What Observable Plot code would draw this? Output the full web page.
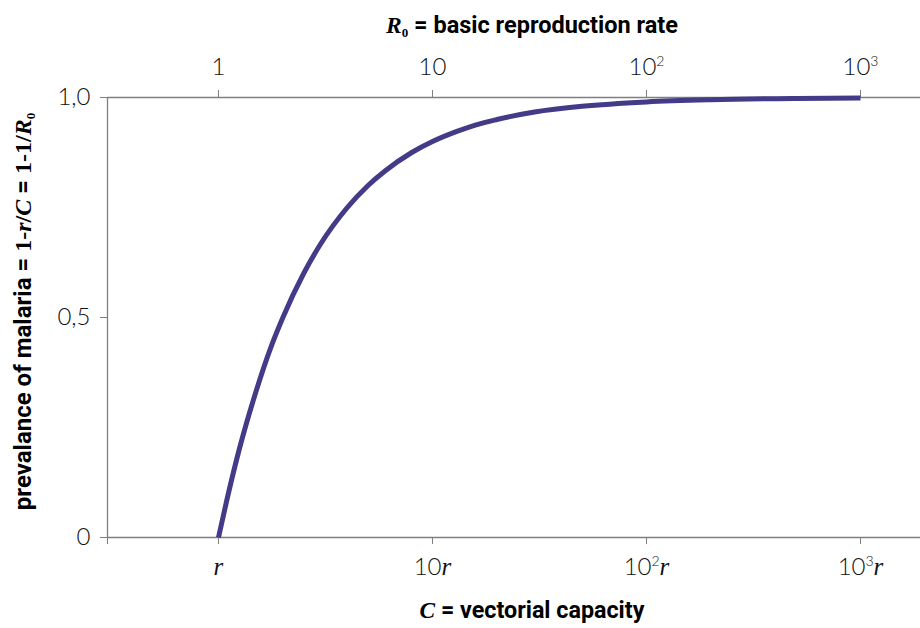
<!DOCTYPE html>
<html><head><meta charset="utf-8">
<script src="https://cdn.jsdelivr.net/npm/d3@7"></script>
<script src="https://cdn.jsdelivr.net/npm/@observablehq/plot@0.6"></script>
<style>body{margin:0;background:#fff} svg{display:block}</style>
</head><body><div id="chart"></div>
<script>
// R0 = basic reproduction rate (C/r) and prevalence of malaria
const r0Values   = [1, 1.1, 1.25, 1.5, 1.75, 2, 2.5, 3, 4, 5, 6, 8, 10, 13, 16, 20, 30, 50, 100, 200, 500, 1000];
const prevalence = [0, 0.09, 0.2, 0.333, 0.43, 0.5, 0.6, 0.667, 0.75, 0.8, 0.833, 0.875, 0.9, 0.923, 0.938, 0.95, 0.967, 0.98, 0.99, 0.995, 0.998, 0.999];
const r0Ticks = [1, 10, 100, 1000];
// [base, superscript] for the top axis; [base, superscript] + italic r for the bottom axis
const topTickLabels = [["1", ""], ["10", ""], ["10", "2"], ["10", "3"]];
const bottomTickLabels = [["", ""], ["10", ""], ["10", "2"], ["10", "3"]];
const yTicks = [0, 0.5, 1];
const yTickLabels = ["0", "0,5", "1,0"];
const xDomain = [0.303, 1907];

const data = r0Values.map((x, i) => ({x, y: prevalence[i]}));
const sans = "Lato, 'Open Sans', sans-serif";
const boldSans = "Roboto, Lato, sans-serif";
const serif = "'Liberation Serif', 'DejaVu Serif', serif";
const axisGrey = "#7f7f7f";
const ink = "#111";

const chart = Plot.plot({
  width: 920, height: 628,
  marginLeft: 107, marginRight: 0, marginTop: 97, marginBottom: 91,
  style: {fontFamily: sans, background: "#fff", color: ink},
  x: {type: "log", domain: xDomain},
  y: {domain: [0, 1]},
  marks: [
    Plot.ruleY([0, 1], {stroke: axisGrey, strokeWidth: 1.3}),
    Plot.ruleX([xDomain[0]], {stroke: axisGrey, strokeWidth: 1.3}),
    Plot.axisX(r0Ticks, {anchor: "top", tickSize: 8, tickPadding: 15, fontSize: 24, fontWeight: 300,
      stroke: axisGrey, fill: ink, label: null, className: "top-ticks",
      tickFormat: d => topTickLabels[r0Ticks.indexOf(d)].join("|")}),
    Plot.axisX([xDomain[0], ...r0Ticks], {anchor: "bottom", tickSize: 7, tickPadding: 13, fontSize: 24, fontWeight: 300,
      stroke: axisGrey, fill: ink, label: null, className: "bottom-ticks",
      tickFormat: d => { const i = r0Ticks.indexOf(d); return i < 0 ? "" : bottomTickLabels[i].join("|") + "|r"; }}),
    Plot.axisY(yTicks, {anchor: "left", tickSize: 7, tickPadding: 10, fontSize: 24, fontWeight: 300,
      stroke: axisGrey, fill: ink, label: null,
      tickFormat: d => yTickLabels[yTicks.indexOf(d)]}),
    Plot.line(data, {x: "x", y: "y", stroke: "#433a88", strokeWidth: 5, curve: "monotone-x", strokeLinecap: "butt"}),
    Plot.text(["R0 = basic reproduction rate"], {frameAnchor: "top", dx: 18, dy: -81, fontSize: 23.5, fontWeight: "bold", fontFamily: boldSans, className: "top-title", fill: "#000"}),
    Plot.text(["C = vectorial capacity"], {frameAnchor: "bottom", dx: 18, dy: 80, fontSize: 23.3, fontWeight: "bold", fontFamily: boldSans, className: "bottom-title", fill: "#000"}),
    Plot.text(["prevalance of malaria = 1-r/C = 1-1/R0"], {frameAnchor: "left", textAnchor: "middle", dx: -84, dy: -6, rotate: -90, fontSize: 24, fontWeight: "bold", fontFamily: boldSans, className: "y-title", fill: "#000"})
  ]
});
document.getElementById("chart").appendChild(chart);

// rich text helpers
function setRich(textEl, parts) {
  const t = d3.select(textEl);
  t.text(null);
  parts.forEach(p => {
    const s = t.append("tspan").text(p.t);
    if (p.serif) s.attr("font-family", serif);
    if (p.italic) s.attr("font-style", "italic");
    if (p.weight) s.attr("font-weight", p.weight);
    if (p.size) s.attr("font-size", p.size);
    if (p.dy) s.attr("dy", p.dy);
  });
}
const svg = d3.select(chart);
svg.selectAll(".top-title text").each(function() {
  setRich(this, [
    {t: "R", serif: true, italic: true},
    {t: "0", serif: true, size: 13, dy: 4},
    {t: " = basic reproduction rate", dy: -4}
  ]);
});
svg.selectAll(".bottom-title text").each(function() {
  setRich(this, [
    {t: "C", serif: true, italic: true},
    {t: " = vectorial capacity"}
  ]);
});
svg.selectAll(".y-title text").each(function() {
  setRich(this, [
    {t: "prevalance of malaria = "},
    {t: "1-", serif: true},
    {t: "r", serif: true, italic: true},
    {t: "/", serif: true},
    {t: "C", serif: true, italic: true},
    {t: " = "},
    {t: "1-1/", serif: true},
    {t: "R", serif: true, italic: true},
    {t: "0", serif: true, size: 13, dy: 4}
  ]);
});
function richTick(el, withR) {
  const s = d3.select(el).text();
  if (!s) return;
  const [base, sup] = s.split("|");
  const parts = [];
  if (base) parts.push({t: base});
  if (sup) parts.push({t: sup, size: 14, dy: -9});
  if (withR) parts.push({t: "r", serif: true, italic: true, weight: "normal", size: 25, dy: sup ? 9 : 0});
  setRich(el, parts);
}
svg.selectAll(".top-ticks text").each(function() { richTick(this, false); });
svg.selectAll(".bottom-ticks text").each(function() { richTick(this, true); });
</script>
</body></html>
